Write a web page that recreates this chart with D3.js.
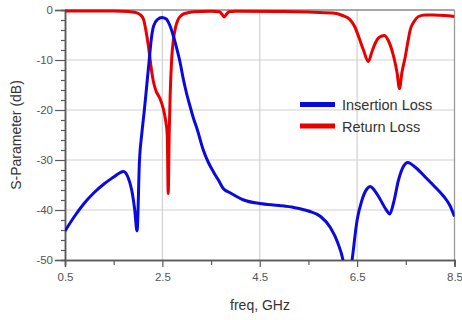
<!DOCTYPE html>
<html>
<head>
<meta charset="utf-8">
<script src="https://cdn.jsdelivr.net/npm/d3@7"></script>
<style>
  html, body { margin: 0; padding: 0; background: #fff; }
  svg { display: block; font-family: "Liberation Sans", Arial, sans-serif; }
</style>
</head>
<body>
<svg id="chart" width="462" height="320"></svg>
<script>
// ---- data ----
const xTicks = [0.5, 2.5, 4.5, 6.5, 8.5];
const xTickLabels = ["0.5", "2.5", "4.5", "6.5", "8.5"];
const yTicks = [0, -10, -20, -30, -40, -50];
const yTickLabels = ["0", "-10", "-20", "-30", "-40", "-50"];
const seriesNames = ["Insertion Loss", "Return Loss"];
const seriesColors = ["#0a0ae0", "#e80000"];

const insertionFreq = [0.5, 0.7, 0.9, 1.1, 1.3, 1.5, 1.62, 1.70, 1.80, 1.87, 1.93, 1.98, 2.03, 2.08, 2.13, 2.18, 2.23, 2.27, 2.32, 2.40, 2.49, 2.58, 2.65, 2.72, 2.79, 2.86, 2.93, 3.00, 3.07, 3.14, 3.21, 3.34, 3.45, 3.55, 3.65, 3.75, 3.90, 4.17, 4.50, 4.90, 5.20, 5.50, 5.75, 5.95, 6.10, 6.22, 6.30, 6.39, 6.50, 6.60, 6.70, 6.77, 6.85, 6.97, 7.10, 7.17, 7.25, 7.35, 7.45, 7.54, 7.70, 7.93, 8.10, 8.28, 8.40, 8.50];
const insertionLoss = [-44.2, -41.2, -38.6, -36.5, -34.8, -33.4, -32.6, -32.3, -33.6, -36.0, -39.8, -44.2, -30.0, -24.5, -20.0, -15.0, -10.0, -6.0, -3.2, -1.9, -1.5, -1.8, -3.0, -5.0, -7.5, -10.3, -13.8, -16.8, -19.3, -21.7, -23.7, -28.0, -30.6, -32.4, -34.0, -35.7, -36.6, -38.0, -38.7, -39.1, -39.5, -40.2, -41.3, -43.5, -46.5, -50.5, -56.0, -50.5, -42.0, -38.0, -35.8, -35.3, -36.0, -37.8, -40.0, -40.8, -38.5, -34.0, -31.3, -30.5, -31.5, -33.7, -35.4, -37.3, -39.0, -41.3];

const returnFreq = [0.5, 1.0, 1.5, 1.8, 1.95, 2.04, 2.11, 2.16, 2.21, 2.25, 2.28, 2.32, 2.37, 2.45, 2.52, 2.56, 2.60, 2.62, 2.64, 2.66, 2.69, 2.73, 2.77, 2.81, 2.90, 3.00, 3.14, 3.50, 3.67, 3.72, 3.77, 3.82, 3.87, 4.00, 5.00, 5.50, 6.00, 6.20, 6.36, 6.45, 6.53, 6.63, 6.73, 6.80, 6.87, 6.95, 7.06, 7.15, 7.25, 7.32, 7.37, 7.42, 7.49, 7.54, 7.59, 7.67, 7.76, 7.90, 8.07, 8.30, 8.50];
const returnLoss = [-0.2, -0.2, -0.2, -0.3, -0.5, -0.9, -1.8, -4.0, -7.0, -10.0, -12.3, -14.5, -16.2, -17.7, -19.8, -21.7, -25.0, -36.7, -25.0, -17.0, -10.0, -5.7, -3.5, -2.2, -1.0, -0.6, -0.35, -0.25, -0.35, -0.8, -1.4, -0.8, -0.35, -0.25, -0.3, -0.4, -0.6, -1.1, -2.0, -3.3, -5.3, -8.0, -10.3, -8.5, -6.7, -5.5, -5.1, -6.3, -9.3, -12.5, -15.7, -12.5, -9.3, -6.5, -4.0, -2.3, -1.3, -1.0, -1.0, -1.1, -1.3];

// ---- layout ----
const svg = d3.select("#chart");
const L = 65, R = 454.5, T = 10, B = 260;
const x = d3.scaleLinear().domain([0.5, 8.5]).range([L, R]);
const y = d3.scaleLinear().domain([-50, 0]).range([B, T]);

// grid
const grid = svg.append("g");
grid.selectAll(".gx").data(xTicks.slice(1, -1)).enter().append("line")
  .attr("x1", d => x(d)).attr("x2", d => x(d)).attr("y1", T).attr("y2", B)
  .attr("stroke", "#d2d2d2").attr("stroke-width", 1.2);
grid.selectAll(".gy").data(yTicks.slice(1, -1)).enter().append("line")
  .attr("x1", L).attr("x2", R).attr("y1", d => y(d)).attr("y2", d => y(d))
  .attr("stroke", "#d2d2d2").attr("stroke-width", 1.2);

// borders top & right
svg.append("line").attr("x1", L).attr("x2", R).attr("y1", T).attr("y2", T).attr("stroke", "#8a8a8a").attr("stroke-width", 1.3);
svg.append("line").attr("x1", R).attr("x2", R).attr("y1", T).attr("y2", B).attr("stroke", "#9a9a9a").attr("stroke-width", 1.3);

// axes
const axColor = "#5a5a5a";
const yMinor = d3.range(0, -51, -2).filter(v => v % 10 !== 0);
const yMinorAxis = d3.axisLeft(y).tickValues(yMinor).tickSize(4).tickFormat("");
const yAxis = d3.axisLeft(y).tickValues(yTicks).tickSize(10).tickPadding(2)
  .tickFormat((d, i) => yTickLabels[i]);
const xMinor = [1.5, 3.5, 5.5, 7.5];
const xMinorAxis = d3.axisBottom(x).tickValues(xMinor).tickSize(5).tickFormat("");
const xAxis = d3.axisBottom(x).tickValues(xTicks).tickSize(7).tickPadding(6)
  .tickFormat((d, i) => xTickLabels[i]);

function styleAxis(g) {
  g.select(".domain").attr("stroke", axColor).attr("stroke-width", 1.5);
  g.selectAll(".tick line").attr("stroke", axColor).attr("stroke-width", 1.2);
  g.selectAll(".tick text").attr("fill", "#555").style("font-size", "11.5px")
    .style("font-family", "'Liberation Sans', Arial, sans-serif");
}
svg.append("g").attr("transform", `translate(${L},0)`).call(yMinorAxis).call(styleAxis);
svg.append("g").attr("transform", `translate(${L},0)`).call(yAxis).call(styleAxis);
svg.append("g").attr("transform", `translate(0,${B})`).call(xMinorAxis).call(styleAxis);
svg.append("g").attr("transform", `translate(0,${B})`).call(xAxis).call(styleAxis);

// clip
svg.append("clipPath").attr("id", "clip").append("rect")
  .attr("x", L).attr("y", T - 3).attr("width", R - L).attr("height", B - T + 3);

const line = d3.line().x(d => x(d[0])).y(d => y(d[1])).curve(d3.curveMonotoneX);
const plot = svg.append("g").attr("clip-path", "url(#clip)");
const series = [
  d3.zip(insertionFreq, insertionLoss),
  d3.zip(returnFreq, returnLoss)
];
[1, 0].forEach(i => {
  plot.append("path").datum(series[i])
    .attr("fill", "none").attr("stroke", seriesColors[i])
    .attr("stroke-width", 3).attr("stroke-linejoin", "round")
    .attr("d", line);
});

// axis titles
svg.append("text").attr("x", 260).attr("y", 310).attr("text-anchor", "middle")
  .attr("fill", "#333").style("font-size", "14px").text("freq, GHz");
svg.append("text").attr("transform", "translate(21,135) rotate(-90)")
  .attr("text-anchor", "middle").attr("fill", "#333").style("font-size", "14px")
  .text("S-Parameter (dB)");

// legend
const leg = svg.append("g");
seriesNames.forEach((name, i) => {
  const yy = 104.5 + i * 21.5;
  leg.append("line").attr("x1", 300).attr("x2", 335).attr("y1", yy).attr("y2", yy)
    .attr("stroke", seriesColors[i]).attr("stroke-width", 5);
  leg.append("text").attr("x", 342).attr("y", yy + 5.5).attr("fill", "#333")
    .style("font-size", "14.5px").text(name);
});
</script>
</body>
</html>
